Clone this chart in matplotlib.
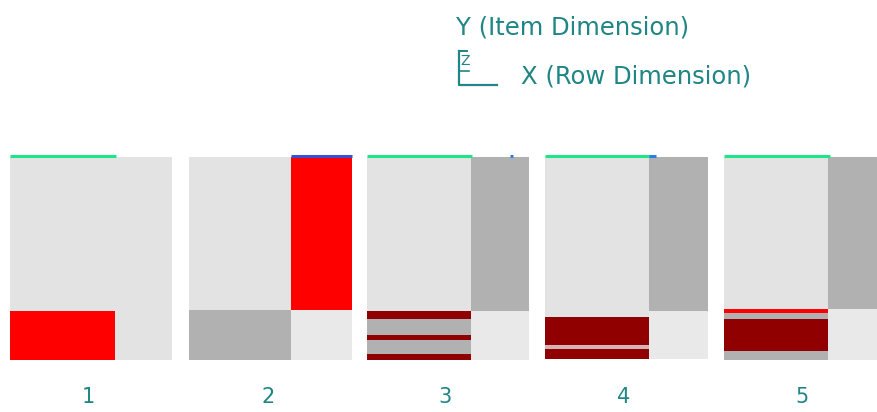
import numpy as np
import matplotlib
matplotlib.use("Agg")
import matplotlib.pyplot as plt
from matplotlib.colors import ListedColormap, BoundaryNorm

# Cell colour codes: 0 light, 1 grey, 2 red, 3 dark red, 4 faint background, 5 pale stripe
palette = ["#e3e3e3", "#b1b1b1", "#ff0000", "#900000", "#e9e9e9", "#d2b4b4"]

panel_labels = ["1", "2", "3", "4", "5"]

# Split of the row dimension (fraction of panel width given to the first cluster)
col_split = [0.648, 0.627, 0.640, 0.640, 0.640]

# Item-dimension boundaries (percent from top) and block codes [left, right] per band
row_edges = [
    [0, 75.9, 100],
    [0, 75.3, 100],
    [0, 75.9, 79.8, 87.7, 90.1, 97.0, 100],
    [0, 75.9, 78.9, 92.6, 94.6, 99.5],
    [0, 75.0, 76.8, 79.8, 95.6, 100],
]
block_codes = [
    [[0, 0], [2, 0]],
    [[0, 2], [1, 4]],
    [[0, 1], [3, 4], [1, 4], [3, 4], [1, 4], [3, 4]],
    [[0, 1], [0, 4], [3, 4], [5, 4], [3, 4]],
    [[0, 1], [2, 4], [1, 4], [3, 4], [1, 4]],
]

# Marker bars along the top edge: (start fraction, end fraction, colour)
top_marks = [
    [(0.0, 0.655, "#1fe58a")],
    [(0.627, 1.0, "#3a4fd0")],
    [(0.0, 0.650, "#1fe58a"), (0.88, 0.90, "#2a7fe0")],
    [(0.0, 0.650, "#1fe58a"), (0.64, 0.68, "#2a7fe0")],
    [(0.0, 0.655, "#1fe58a")],
]

# Panel placement in figure pixels
panel_left = [10, 189, 367, 545, 724]
panel_width = [162, 163, 162, 163, 162]
panel_top, panel_bottom = 157, 360
label_y = 397

text_color = "#1f8585"
font = "DejaVu Sans"

fig = plt.figure(figsize=(8.78, 4.12), dpi=100)
ax = fig.add_axes([0, 0, 1, 1])
ax.set_xlim(0, 878)
ax.set_ylim(412, 0)
ax.axis("off")

cmap = ListedColormap(palette)
norm = BoundaryNorm(np.arange(len(palette) + 1) - 0.5, cmap.N)
height = panel_bottom - panel_top

for i in range(len(panel_labels)):
    x0, w = panel_left[i], panel_width[i]
    xe = np.array([x0, x0 + col_split[i] * w, x0 + w])
    ye = panel_top + np.array(row_edges[i]) / 100.0 * height
    ax.pcolormesh(xe, ye, np.array(block_codes[i]), cmap=cmap, norm=norm,
                  shading="flat", antialiased=False)
    for a, b, c in top_marks[i]:
        ax.plot([x0 + a * w, x0 + b * w], [panel_top - 1.5, panel_top - 1.5],
                color=c, lw=2.2, solid_capstyle="butt")
    ax.text(x0 + w / 2 - 2.5, label_y, panel_labels[i], ha="center", va="center",
            fontsize=15, color=text_color, family=font)

# Orientation key
ax.text(456, 27, "Y (Item Dimension)", ha="left", va="center", fontsize=17.5,
        color=text_color, family=font)
ax.text(521, 76, "X (Row Dimension)", ha="left", va="center", fontsize=17.5,
        color=text_color, family=font)
ax.plot([459, 459, 497], [51, 85, 85], color=text_color, lw=1.6)
ax.plot([459, 467], [51, 51], color=text_color, lw=1.4)
ax.plot([459, 469], [71, 71], color=text_color, lw=1.2)
ax.text(465, 61, "Z", ha="center", va="center", fontsize=10,
        color=text_color, family=font)

fig.savefig("out.png", dpi=100)
